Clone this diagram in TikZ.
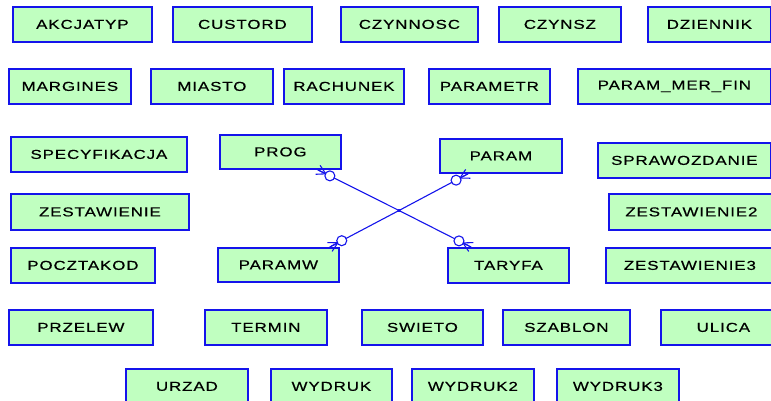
\documentclass[tikz,border=0pt]{standalone}
\usepackage{fontspec}
\setmainfont{Liberation Sans}[FakeStretch=1.3, LetterSpace=7, FakeBold=0.5]
\usepackage{tikz}
\usetikzlibrary{calc, positioning}

\definecolor{tblfill}{RGB}{192,255,192}
\definecolor{tbldraw}{RGB}{20,20,235}

% end of a relation: crow's foot and an open circle
\newcommand{\relend}[2]{%
	\draw [relline] ($(#1)!5pt!90:(#2)$) -- ($(#1)!9pt!(#2)$) -- ($(#1)!5pt!-90:(#2)$);
	\draw [relline] (#1) -- ($(#1)!9pt!(#2)$);
	\draw [relline, fill=white] ($(#1)!13.5pt!(#2)$) circle (5pt);
}

\begin{document}
\begin{tikzpicture}[
	x=1pt,
	y=-1pt,
	font=\fontsize{13}{15}\selectfont,
	tbl/.style={draw=tbldraw, fill=tblfill, line width=1.8pt, anchor=north west,
		minimum width=121pt, minimum height=35pt, inner sep=0pt},
	relline/.style={draw=tbldraw, line width=1.1pt}
]

\useasboundingbox (0,0) rectangle (771,400);

% row 1
 \node [tbl, minimum width=139pt] (akcjatyp)     at (12,6)   {AKCJATYP};
 \node [tbl, minimum width=139pt] (custord)      at (172,6)  {CUSTORD};
 \node [tbl, minimum width=137pt] (czynnosc)     at (340,6)  {CZYNNOSC};
 \node [tbl, minimum width=122pt] (czynsz)       at (498,6)  {CZYNSZ};
 \node [tbl, minimum width=123pt] (dziennik)     at (647,6)  {DZIENNIK};
% row 2
 \node [tbl, minimum width=122pt] (margines)     at (8,68)   {MARGINES};
 \node [tbl, minimum width=122pt] (miasto)       at (150,68) {MIASTO};
 \node [tbl, minimum width=120pt] (rachunek)     at (283,68) {RACHUNEK};
 \node [tbl]                      (parametr)     at (428,68) {PARAMETR};
 \node [tbl, minimum width=193pt] (parammerfin)  at (577,68) {PARAM\_MER\_FIN};
% row 3
 \node [tbl, minimum width=176pt] (specyfikacja) at (10,136) {SPECYFIKACJA};
 \node [tbl, minimum height=34pt] (prog)         at (219,134) {PROG};
 \node [tbl, minimum width=122pt,
        minimum height=34pt]      (param)        at (439,138) {PARAM};
 \node [tbl, minimum width=173pt] (sprawozdanie) at (597,142) {SPRAWOZDANIE};
% row 4
 \node [tbl, minimum width=178pt,
        minimum height=36pt]      (zestawienie)  at (10,193)  {ZESTAWIENIE};
 \node [tbl, minimum width=165pt,
        minimum height=36pt]      (zestawienie2) at (608,193) {ZESTAWIENIE2};
% row 5
 \node [tbl, minimum width=144pt] (pocztakod)    at (10,247)  {POCZTAKOD};
 \node [tbl, minimum height=34pt] (paramw)       at (217,247) {PARAMW};
 \node [tbl]                      (taryfa)       at (447,247) {TARYFA};
 \node [tbl, minimum width=168pt] (zestawienie3) at (605,247) {ZESTAWIENIE3};
% row 6
 \node [tbl, minimum width=144pt] (przelew)      at (8,309)   {PRZELEW};
 \node [tbl, minimum width=122pt] (termin)       at (204,309) {TERMIN};
 \node [tbl]                      (swieto)       at (361,309) {SWIETO};
 \node [tbl, minimum width=127pt] (szablon)      at (502,309) {SZABLON};
 \node [tbl, minimum width=125pt] (ulica)        at (660,309) {ULICA};
% row 7
 \node [tbl, minimum width=122pt] (urzad)        at (125,368) {URZAD};
 \node [tbl]                      (wydruk)       at (270,368) {WYDRUK};
 \node [tbl, minimum width=122pt] (wydruk2)      at (411,368) {WYDRUK2};
 \node [tbl, minimum width=122pt] (wydruk3)      at (556,368) {WYDRUK3};

% relation between the four tables
 \coordinate (hub) at (399,210.5);
 \coordinate (progend)   at ([xshift=-24pt]prog.south east);
 \coordinate (paramend)  at ([xshift=29pt]param.south west);
 \coordinate (paramwend) at ([xshift=-10pt]paramw.north east);
 \coordinate (taryfaend) at ([xshift=24pt]taryfa.north west);

 \foreach \e in {progend, paramend, paramwend, taryfaend}
   \draw [relline] (\e) -- (hub);
 \foreach \e in {progend, paramend, paramwend, taryfaend}
   \relend{\e}{hub}
 \fill [tbldraw] (hub) circle (1.4pt);

\end{tikzpicture}
\end{document}
